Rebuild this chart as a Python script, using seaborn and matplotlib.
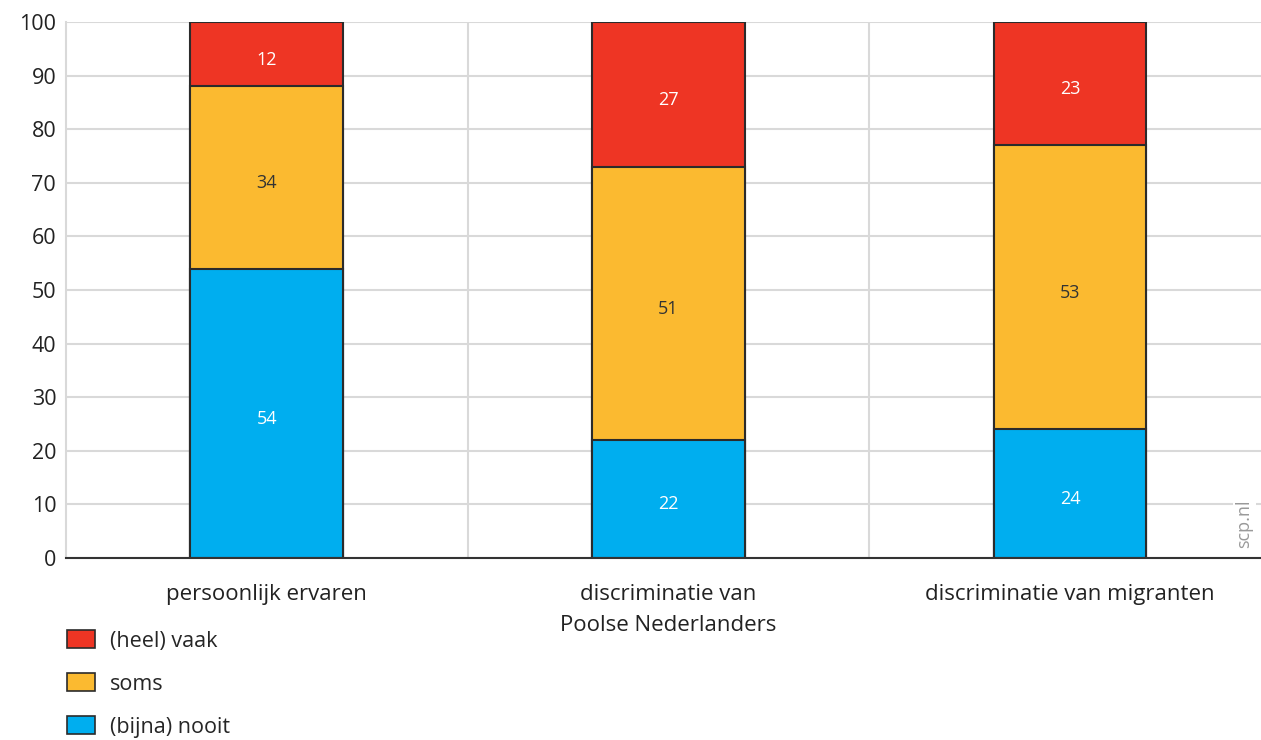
import pandas as pd
import matplotlib
matplotlib.use("Agg")
import matplotlib.pyplot as plt
from matplotlib.patches import Patch
import seaborn as sns

categories = ["persoonlijk ervaren", "discriminatie van\nPoolse Nederlanders", "discriminatie van migranten"]
nooit = [54, 22, 24]
soms = [34, 51, 53]
vaak = [12, 27, 23]

series = ["(heel) vaak", "soms", "(bijna) nooit"]
colors = {"(heel) vaak": "#EE3524", "soms": "#FBBA30", "(bijna) nooit": "#00AEEF"}
text_colors = {"(heel) vaak": "white", "soms": "#333333", "(bijna) nooit": "white"}

sns.set_style("white")
plt.rcParams['font.family'] = ['Open Sans', 'DejaVu Sans']

df = pd.DataFrame({"cat": categories, "(bijna) nooit": nooit, "soms": soms, "(heel) vaak": vaak})
df["top_nooit"] = df["(bijna) nooit"]
df["top_soms"] = df["top_nooit"] + df["soms"]
df["top_vaak"] = df["top_soms"] + df["(heel) vaak"]

fig = plt.figure(figsize=(12.61, 7.4), dpi=100)
ax = fig.add_axes([0.0523, 0.2459, 0.9556, 0.7243])

# gestapelde balken: hoogste eerst, lagere eroverheen
for name, col in [("(heel) vaak", "top_vaak"), ("soms", "top_soms"), ("(bijna) nooit", "top_nooit")]:
    sns.barplot(data=df, x="cat", y=col, color=colors[name], saturation=1, width=0.38,
                edgecolor="#2b2b2b", linewidth=1.5, ax=ax, zorder=3)

# waarden in de balken
for i in range(len(categories)):
    for name, top in [("(bijna) nooit", "top_nooit"), ("soms", "top_soms"), ("(heel) vaak", "top_vaak")]:
        v = df.loc[i, name]
        ax.text(i, df.loc[i, top] - v / 2 - 1, str(v), ha="center", va="center",
                fontsize=13, color=text_colors[name], zorder=5)

ax.set_ylim(0, 100)
ax.set_xlim(-0.5, 2.5)
ax.set_yticks(range(0, 101, 10))
ax.set_xlabel("")
ax.set_ylabel("")
ax.set_xticks(range(3))
ax.set_xticklabels(categories, linespacing=1.6)

ax.grid(axis="y", color="#d9d9d9", linewidth=1.5, zorder=0)
for xv in [0.5, 1.5]:
    ax.axvline(xv, color="#d9d9d9", linewidth=1.5, zorder=0)

for s in ["top", "right"]:
    ax.spines[s].set_visible(False)
ax.spines["left"].set_color("#d9d9d9")
ax.spines["left"].set_linewidth(1.5)
ax.spines["bottom"].set_color("#333333")
ax.spines["bottom"].set_linewidth(1.5)
ax.spines["bottom"].set_zorder(6)

ax.tick_params(axis="y", length=0, labelsize=15.5, colors="#222222", pad=7)
ax.tick_params(axis="x", length=8, width=1.5, color="#333333", labelsize=16,
               labelcolor="#222222", pad=11, direction="out")

handles = [Patch(facecolor=colors[n], edgecolor="#2b2b2b", linewidth=1.2, label=n) for n in series]
fig.legend(handles=handles, loc="upper left", bbox_to_anchor=(0.0535, 0.148), frameon=False,
           fontsize=15.5, handlelength=1.27, handleheight=0.85, handletextpad=0.7,
           labelspacing=1.02, borderaxespad=0, borderpad=0)

fig.text(0.987, 0.292, "scp.nl", rotation=90, ha="center", va="center", fontsize=13,
         color="#999999", bbox=dict(facecolor="white", edgecolor="none", pad=2))

fig.savefig("out.png", dpi=100)
